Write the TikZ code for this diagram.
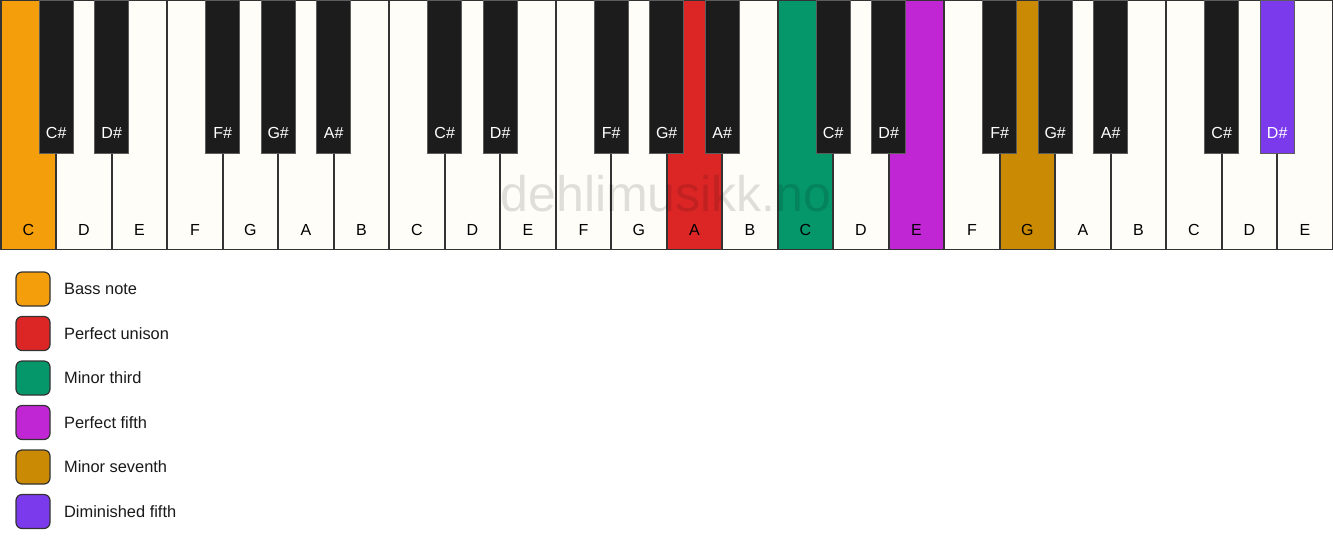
\documentclass[tikz,border=0pt]{standalone}
\usepackage{fontspec}
\setmainfont{Liberation Sans}
\definecolor{kOr}{HTML}{F59E0B}
\definecolor{kRed}{HTML}{DC2626}
\definecolor{kGrn}{HTML}{059669}
\definecolor{kPur}{HTML}{C026D3}
\definecolor{kGold}{HTML}{CA8A04}
\definecolor{kVio}{HTML}{7C3AED}
\definecolor{kW}{HTML}{FFFDF8}
\definecolor{kB}{HTML}{1C1C1C}
\definecolor{kLine}{HTML}{333333}
\begin{document}
\begin{tikzpicture}[x=1pt,y=-1pt,
  whitekey/.style={draw=kLine, line width=1.6pt, inner sep=0pt, outer sep=0pt,
    minimum width=55.5pt, minimum height=249pt, anchor=north west},
  blackkey/.style={draw=kLine!80!white, line width=1pt, inner sep=0pt, outer sep=0pt,
    minimum width=34pt, minimum height=153pt, anchor=north},
  wlabel/.style={font=\fontsize{16}{16}\selectfont, text=black},
  blabel/.style={font=\fontsize{16}{16}\selectfont, text=white},
  legbox/.style={draw=kLine, line width=1.2pt, rounded corners=6pt, minimum width=34pt,
    minimum height=34pt, inner sep=0pt},
  legtext/.style={font=\fontsize{16.4}{16.4}\selectfont, anchor=west, text=black!90}]
\useasboundingbox (0,0) rectangle (1333,550);
\fill[white] (0,0) rectangle (1333,550);
% white keys
\foreach \i/\n/\c in {0/C/kOr,1/D/kW,2/E/kW,3/F/kW,4/G/kW,5/A/kW,6/B/kW,
  7/C/kW,8/D/kW,9/E/kW,10/F/kW,11/G/kW,12/A/kRed,13/B/kW,
  14/C/kGrn,15/D/kW,16/E/kPur,17/F/kW,18/G/kGold,19/A/kW,20/B/kW,
  21/C/kW,22/D/kW,23/E/kW}{
  \node[whitekey, fill=\c] (w\i) at ({0.7+\i*55.5},0.5) {};
  \node[wlabel] (wl\i) at ([yshift=19.5pt]w\i.south) {\n};
}
% watermark
\node[font=\fontsize{50}{50}\selectfont, text=black, opacity=0.12, anchor=base] (wm) at (666,211) {dehlimusikk.no};
% black keys
\foreach \i/\n/\c in {0/C\#/kB,1/D\#/kB,3/F\#/kB,4/G\#/kB,5/A\#/kB,
  7/C\#/kB,8/D\#/kB,10/F\#/kB,11/G\#/kB,12/A\#/kB,
  14/C\#/kB,15/D\#/kB,17/F\#/kB,18/G\#/kB,19/A\#/kB,
  21/C\#/kB,22/D\#/kVio}{
  \node[blackkey, fill=\c] (b\i) at (w\i.north east) {};
  \node[blabel] (bl\i) at ([yshift=21pt]b\i.south) {\n};
}
% legend
\foreach \k/\c/\t/\y in {1/kOr/Bass note/289,2/kRed/Perfect unison/333.5,
  3/kGrn/Minor third/378,4/kPur/Perfect fifth/422.5,
  5/kGold/Minor seventh/467,6/kVio/Diminished fifth/511.5}{
  \node[legbox, fill=\c] (lb\k) at (33,\y) {};
  \node[legtext] (lt\k) at ([xshift=10pt]lb\k.east) {\t};
}
\end{tikzpicture}
\end{document}
